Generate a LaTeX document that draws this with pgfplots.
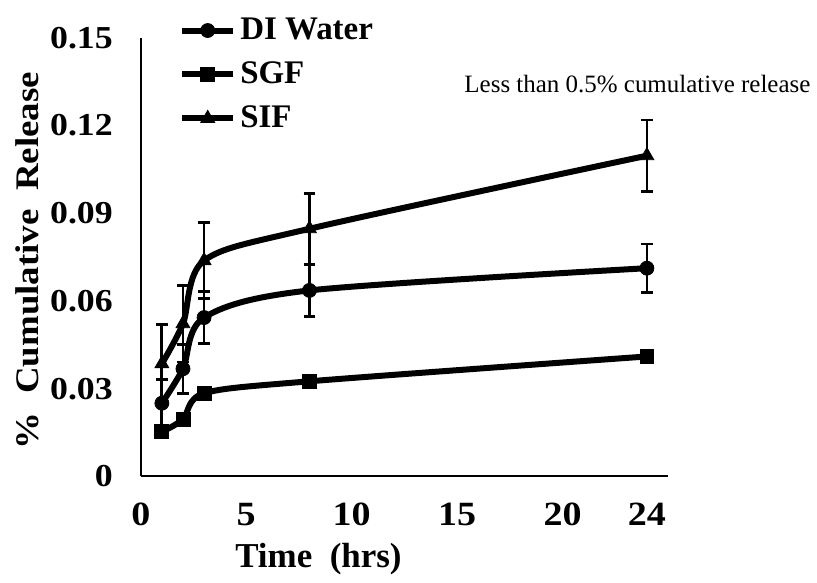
\documentclass[border=0pt]{standalone}
\usepackage{fontspec}
\setmainfont{Liberation Serif}
\newfontfamily\wide[FakeStretch=1.12]{Liberation Serif}
\usepackage{pgfplots}
\usepackage{pgfplotstable}
\pgfplotsset{compat=1.18}
\pgfplotstableread{
x y e
1 0.0250 0.0082
2 0.0368 0.0084
3 0.0543 0.0090
8 0.0636 0.0088
24 0.0712 0.0083
}\diwater
\pgfplotstableread{
x y e
1 0.0152 0.0
2 0.0195 0.0
3 0.0284 0.0
8 0.0325 0.0
24 0.0410 0.0
}\sgf
\pgfplotstableread{
x y e
1 0.0385 0.0134
2 0.0522 0.0131
3 0.0738 0.0131
8 0.0847 0.0122
24 0.1097 0.0122
}\sif
\begin{document}
\begin{tikzpicture}
\begin{axis}[
  width=264pt, height=219.5pt, scale only axis,
  xmin=0, xmax=25, ymin=0, ymax=0.15,
  axis lines=left, axis line style={-, line width=0.8pt},
  clip=false,
  xtick={0,5,10,15,20,24}, xticklabels={0,5,10,15,20,24},
  ytick={0,0.03,0.06,0.09,0.12,0.15}, yticklabels={0,0.03,0.06,0.09,0.12,0.15},
  major tick length=0pt,
  xticklabel style={font=\wide\fontsize{17}{19}\selectfont\bfseries, yshift=-10pt},
  yticklabel style={font=\wide\fontsize{16}{18}\selectfont\bfseries, xshift=-10.5pt},
  xlabel={Time~ (hrs)}, ylabel={\%~ Cumulative~ Release},
  xlabel style={font=\fontsize{17.5}{20}\selectfont\bfseries, at={(axis description cs:0.337,-0.19)}, anchor=center},
  ylabel style={font=\wide\fontsize{16.5}{19}\selectfont\bfseries, at={(axis description cs:-0.216,0.492)}, anchor=center},
  legend style={at={(axis description cs:0.072,1.052)}, anchor=north west, draw=none, fill=none,
    font=\fontsize{16.5}{19}\selectfont\bfseries, inner sep=0pt,
    nodes={inner sep=0pt, text height=12pt, text depth=3pt}, row sep=7pt,
    /tikz/every odd column/.append style={column sep=2pt}},
  legend cell align=left,
  legend image code/.code={\draw[mark repeat=2,mark phase=2,#1] plot coordinates {(0cm,0cm) (0.45cm,0cm) (0.9cm,0cm)};},
  every axis plot/.append style={line width=3pt, black, smooth, tension=0.5},
]
\path (rel axis cs:-0.26705,-0.23007) rectangle (rel axis cs:1.28030,1.08656);
\addplot[mark=*, mark size=3.5pt, mark options={solid, line width=0.4pt},
  error bars/.cd, y dir=both, y explicit,
  error bar style={line width=1.4pt}, error mark options={rotate=90, mark size=3pt, line width=1.4pt}]
  table[x=x, y=y, y error=e] {\diwater};
\addlegendentry{DI Water}
\addplot[mark=square*, mark size=3.5pt, mark options={solid, line width=0.4pt}]
  table[x=x, y=y] {\sgf};
\addlegendentry{SGF}
\addplot[mark=triangle*, mark size=4pt, mark options={solid, line width=0.4pt},
  error bars/.cd, y dir=both, y explicit,
  error bar style={line width=1.4pt}, error mark options={rotate=90, mark size=3pt, line width=1.4pt}]
  table[x=x, y=y, y error=e] {\sif};
\addlegendentry{SIF}
\node[font=\fontsize{12.5}{14}\selectfont, anchor=center] at (rel axis cs:0.942,0.895) {Less than 0.5\% cumulative release};
\end{axis}
\end{tikzpicture}
\end{document}
